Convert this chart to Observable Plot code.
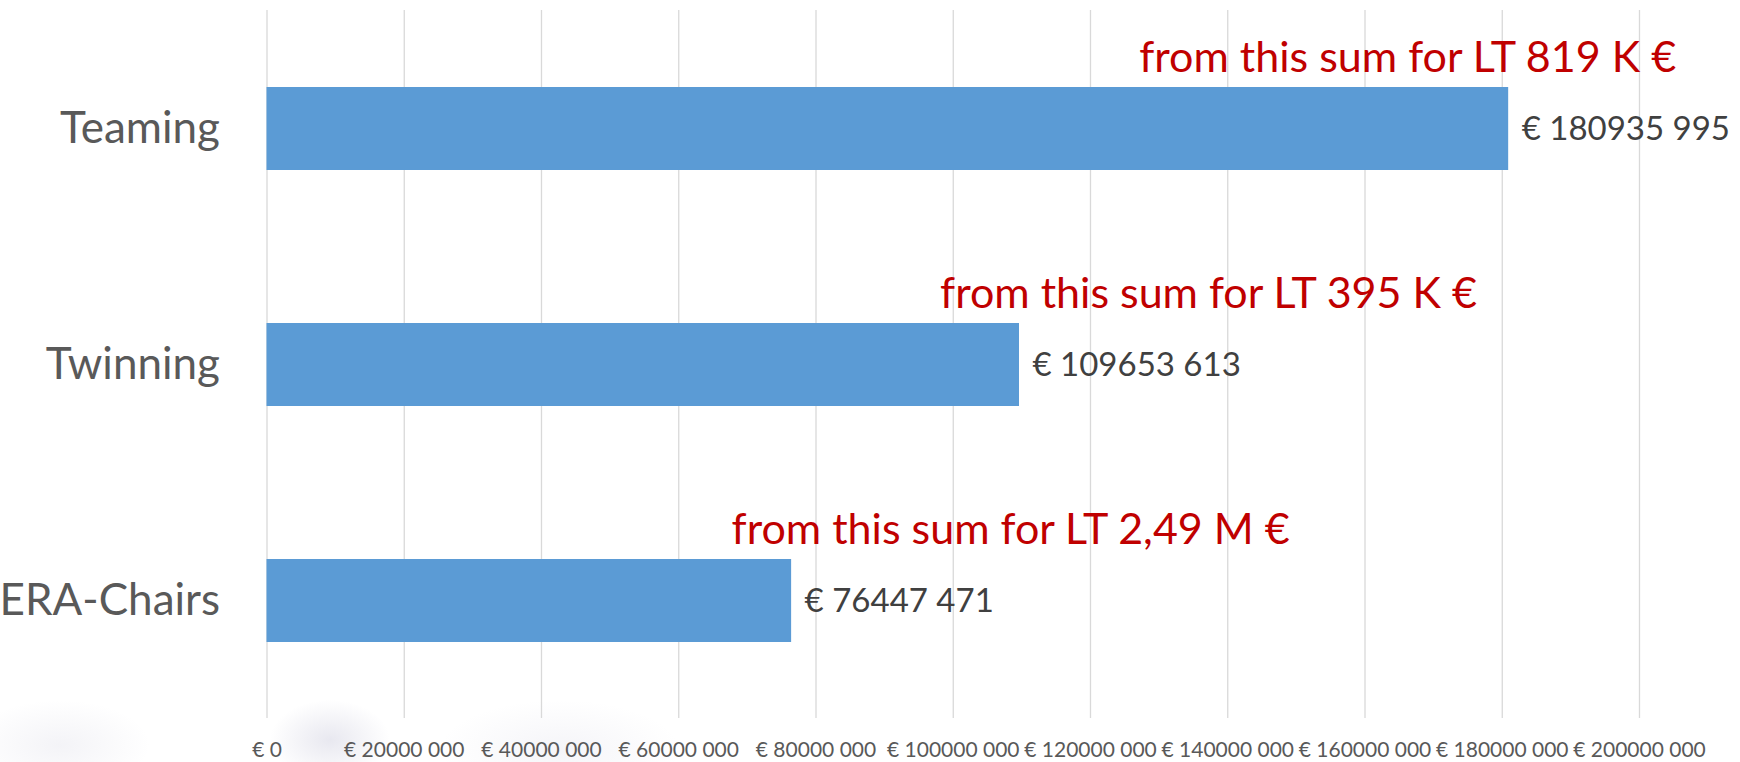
<!DOCTYPE html>
<html>
<head>
<meta charset="utf-8">
<script src="https://cdn.jsdelivr.net/npm/d3@7"></script>
<script src="https://cdn.jsdelivr.net/npm/@observablehq/plot@0.6"></script>
<style>
  html, body { margin: 0; padding: 0; background: #ffffff; overflow: hidden; }
  #wrap { position: relative; width: 1740px; height: 762px;
    background:
      radial-gradient(ellipse 60px 40px at 330px 740px, rgba(150,150,185,0.22), rgba(255,255,255,0) 100%),
      radial-gradient(ellipse 120px 50px at 560px 750px, rgba(170,170,200,0.12), rgba(255,255,255,0) 100%),
      radial-gradient(ellipse 90px 45px at 60px 745px, rgba(160,160,190,0.12), rgba(255,255,255,0) 100%),
      #ffffff; }
  svg { display: block; background: transparent !important; }
</style>
</head>
<body>
<div id="wrap"></div>
<script>
// ---- data ----
const categories = ["Teaming", "Twinning", "ERA-Chairs"];
const amounts = [180935995, 109653613, 76447471];
const notes = ["from this sum for LT 819 K €", "from this sum for LT 395 K €", "from this sum for LT 2,49 M €"];
const tickValues = [0, 20000000, 40000000, 60000000, 80000000, 100000000, 120000000, 140000000, 160000000, 180000000, 200000000];

const rows = categories.map((c, i) => ({category: c, amount: amounts[i], note: notes[i]}));

const euro = n => {
  if (n === 0) return "€ 0";
  const hi = Math.floor(n / 1000);
  const lo = String(n % 1000).padStart(3, "0");
  return `€ ${hi} ${lo}`;
};

const font = "Lato, 'Open Sans', sans-serif";
const noteDx = [-101, 189, 219];

const chart = Plot.plot({
  width: 1740,
  height: 762,
  marginLeft: 266.5,
  marginRight: 101,
  marginTop: 10,
  marginBottom: 44,
  style: {fontFamily: font, background: "transparent"},
  x: {domain: [0, 200000000], axis: null},
  y: {domain: categories, paddingInner: 0.65, paddingOuter: 0.322, axis: null},
  marks: [
    Plot.gridX(tickValues, {stroke: "#d9d9d9", strokeOpacity: 1, strokeWidth: 1.3}),
    Plot.barX(rows, {x: "amount", y: "category", fill: "#5b9bd5"}),
    Plot.axisX(tickValues, {tickSize: 0, tickPadding: 24, tickFormat: euro, fontSize: 21, fill: "#595959", label: null}),
    Plot.axisY({tickSize: 0, tickPadding: 47, fontSize: 44, fill: "#595959", label: null}),
    Plot.text(rows, {x: "amount", y: "category", text: d => euro(d.amount), textAnchor: "start", dx: 13, fontSize: 33, fill: "#404040"}),
    ...rows.map((r, i) => Plot.text([r], {x: "amount", y: "category", text: "note", textAnchor: "middle", lineAnchor: "bottom", dx: noteDx[i], dy: -57, fontSize: 43, fill: "#c00000"}))
  ]
});
document.getElementById("wrap").appendChild(chart);
</script>
</body>
</html>
